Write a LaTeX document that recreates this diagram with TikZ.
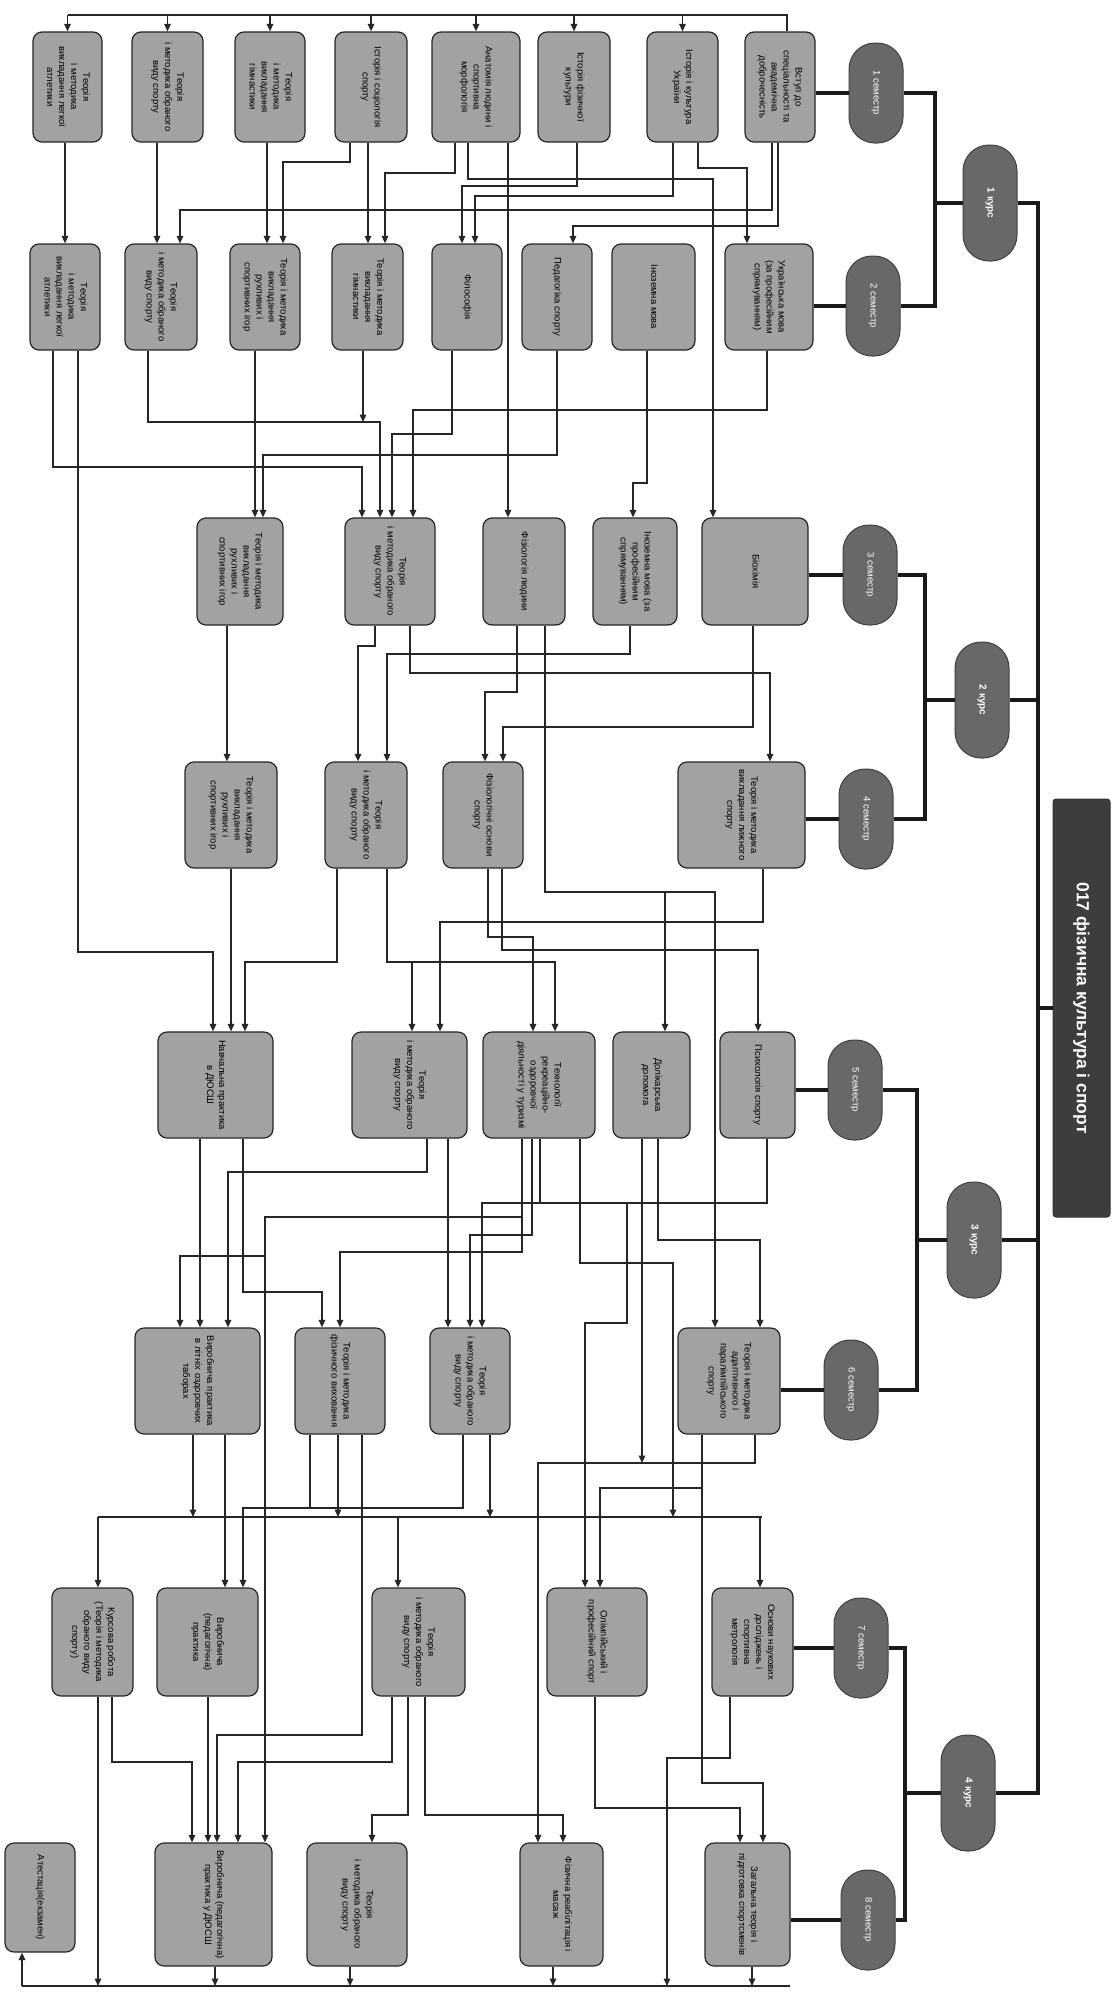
\documentclass[tikz,border=0pt]{standalone}
\usepackage{fontspec}
\setmainfont{Liberation Sans}
\usetikzlibrary{arrows.meta,calc}
\definecolor{boxgray}{HTML}{A2A2A2}
\definecolor{semgray}{HTML}{686868}
\definecolor{titlegray}{HTML}{3D3D3D}
\newcommand\mkbox[6]{\node[box,minimum width=#4pt,minimum height=#5pt] (#1) at (#2,#3) {\rotatebox{-90}{\begin{tabular}{@{}c@{}}#6\end{tabular}}};}
\begin{document}
\begin{tikzpicture}[x=1pt,y=-1pt,
  box/.style={draw=black!85,line width=1.2pt,fill=boxgray,rounded corners=9pt,inner sep=0pt,font=\fontsize{9.5}{12}\selectfont},
  sem/.style={draw=black!75,line width=1pt,fill=semgray,rounded corners=26pt,minimum width=54pt,minimum height=100pt,inner sep=0pt,text=white,font=\fontsize{9.5}{10}\selectfont},
  kurs/.style={sem,minimum height=116pt,font=\fontsize{10}{11}\selectfont\bfseries},
  thk/.style={line width=4.5pt,draw=black!90},
  wire/.style={line width=1.4pt,draw=black!85},
  arr/.style={wire,-{Triangle[length=7.5pt,width=6.5pt]}}]
\fill[white] (0,0) rectangle (1115,1994);
\useasboundingbox (0,0) rectangle (1115,1994);

% ---------- row 1
\mkbox{S1a}{67.5}{87}{69}{110}{Теорія\\і методика\\викладання легкої\\атлетики}
\mkbox{S1b}{167.5}{87}{71}{110}{Теорія\\і методика обраного\\виду спорту}
\mkbox{S1c}{270}{87}{70}{110}{Теорія\\і методика\\викладання\\гімнастики}
\mkbox{S1d}{371}{87}{72}{110}{Історія і соціологія\\спорту}
\mkbox{S1e}{476}{87}{88}{110}{Анатомія людини і\\спортивна\\морфологія}
\mkbox{S1f}{574}{87}{72}{110}{Історія фізичної\\культури}
\mkbox{S1g}{682.5}{87}{71}{110}{Історія і культура\\України}
\mkbox{S1h}{780}{87}{70}{110}{Вступ до\\спеціальності та\\академічна\\доброчесність}
% ---------- row 2
\mkbox{S2a}{65}{297}{70}{106}{Теорія\\і методика\\викладання легкої\\атлетики}
\mkbox{S2b}{161}{297}{72}{106}{Теорія\\і методика обраного\\виду спорту}
\mkbox{S2c}{265}{297}{70}{106}{Теорія і методика\\викладання\\рухливих і\\спортивних ігор}
\mkbox{S2d}{367.5}{297}{71}{106}{Теорія і методика\\викладання\\гімнастики}
\mkbox{S2e}{467}{297}{70}{106}{Філософія}
\mkbox{S2f}{557}{297}{70}{106}{Педагогіка спорту}
\mkbox{S2g}{653.5}{297}{83}{106}{Іноземна мова}
\mkbox{S2h}{769}{297}{88}{106}{Українська мова\\(за професійним\\спрямуванням)}
% ---------- row 3
\mkbox{S3a}{240}{571.5}{86}{107}{Теорія і методика\\викладання\\рухливих і\\спортивних ігор}
\mkbox{S3b}{390}{571.5}{90}{107}{Теорія\\і методика обраного\\виду спорту}
\mkbox{S3c}{524}{571.5}{82}{107}{Фізіологія людини}
\mkbox{S3d}{635}{571.5}{84}{107}{Іноземна мова (за\\професійним\\спрямуванням)}
\mkbox{S3e}{755}{571.5}{106}{107}{Біохімія}
% ---------- row 4
\mkbox{S4a}{231}{815}{92}{106}{Теорія і методика\\викладання\\рухливих і\\спортивних ігор}
\mkbox{S4b}{366}{815}{82}{106}{Теорія\\і методика обраного\\виду спорту}
\mkbox{S4c}{483}{815}{80}{106}{Фізіологічні основи\\спорту}
\mkbox{S4d}{741.5}{815}{127}{106}{Теорія і методика\\викладання лижного\\спорту}
% ---------- row 5
\mkbox{S5a}{215.5}{1085}{115}{106}{Навчальна практика\\в ДЮСШ}
\mkbox{S5b}{409.5}{1085}{115}{106}{Теорія\\і методика обраного\\виду спорту}
\mkbox{S5c}{539}{1085}{112}{106}{Технології\\рекреаційно-\\оздоровчої\\діяльності у туризмі}
\mkbox{S5d}{651.5}{1085}{77}{106}{Долікарська\\допомога}
\mkbox{S5e}{757.5}{1085}{75}{106}{Психологія спорту}
% ---------- row 6
\mkbox{S6a}{197.5}{1381}{125}{106}{Виробнича практика\\в літніх оздоровчих\\таборах}
\mkbox{S6b}{340}{1381}{90}{106}{Теорія і методика\\фізичного виховання}
\mkbox{S6c}{470}{1381}{80}{106}{Теорія\\і методика обраного\\виду спорту}
\mkbox{S6d}{729}{1381}{102}{106}{Теорія і методика\\адаптивного і\\паралімпійського\\спорту}
% ---------- row 7
\mkbox{S7a}{92.5}{1642}{81}{108}{Курсова робота\\(Теорія і методика\\обраного виду\\спорту)}
\mkbox{S7b}{207.5}{1642}{101}{108}{Виробнича\\(педагогічна)\\практика}
\mkbox{S7c}{418.5}{1642}{93}{108}{Теорія\\і методика обраного\\виду спорту}
\mkbox{S7d}{597}{1642}{100}{108}{Олімпійський і\\професійний спорт}
\mkbox{S7e}{752.5}{1642}{81}{108}{Основи наукових\\досліджень і\\спортивна\\метрологія}
% ---------- row 8
\mkbox{S8a}{40}{1897.5}{70}{109}{Атестація(екзамен)}
\mkbox{S8b}{213.5}{1904.5}{117}{123}{Виробнича (педагогічна)\\практика у ДЮСШ}
\mkbox{S8c}{357}{1904.5}{100}{123}{Теорія\\і методика обраного\\виду спорту}
\mkbox{S8d}{561.5}{1904.5}{83}{123}{Фізична реабілітація і\\масаж}
\mkbox{S8e}{747.5}{1904.5}{85}{123}{Загальна теорія і\\підготовка спортсменів}

% ---------- semesters, courses, title
\node[sem] (sem1) at (876,93) {\rotatebox{-90}{1 семестр}};
\node[sem] (sem2) at (873,306) {\rotatebox{-90}{2 семестр}};
\node[sem] (sem3) at (870,575) {\rotatebox{-90}{3 семестр}};
\node[sem] (sem4) at (866,819) {\rotatebox{-90}{4 семестр}};
\node[sem] (sem5) at (855,1090) {\rotatebox{-90}{5 семестр}};
\node[sem] (sem6) at (851,1390) {\rotatebox{-90}{6 семестр}};
\node[sem] (sem7) at (861,1648) {\rotatebox{-90}{7 семестр}};
\node[sem] (sem8) at (868,1920) {\rotatebox{-90}{8 семестр}};
\node[kurs] (kurs1) at (990,203) {\rotatebox{-90}{1 курс}};
\node[kurs] (kurs2) at (982,700) {\rotatebox{-90}{2 курс}};
\node[kurs] (kurs3) at (974,1240) {\rotatebox{-90}{3 курс}};
\node[kurs] (kurs4) at (968,1793) {\rotatebox{-90}{4 курс}};
\node[draw=black!80,line width=1pt,fill=titlegray,rounded corners=3pt,minimum width=57pt,minimum height=418pt,inner sep=0pt,text=white,font=\fontsize{17.5}{20}\selectfont\bfseries] (title) at (1081.5,1008) {\rotatebox{-90}{017 фізична культура і спорт}};

\coordinate (bA) at (935,0);
\coordinate (bB) at (925,0);
\coordinate (bC) at (917,0);
\coordinate (bD) at (905,0);
\coordinate (tr) at (1038,0);
\draw[thk] (S1h.east |- sem1) -- (sem1.west);
\draw[thk] (S2h.east |- sem2) -- (sem2.west);
\draw[thk] (S3e.east |- sem3) -- (sem3.west);
\draw[thk] (S4d.east |- sem4) -- (sem4.west);
\draw[thk] (S5e.east |- sem5) -- (sem5.west);
\draw[thk] (S6d.east |- sem6) -- (sem6.west);
\draw[thk] (S7e.east |- sem7) -- (sem7.west);
\draw[thk] (S8e.east |- sem8) -- (sem8.west);
\draw[thk] (sem1.east) -- (sem1.east -| bA) -- (sem2.east -| bA) -- (sem2.east);
\draw[thk] (kurs1.west) -- (kurs1.west -| bA);
\draw[thk] (sem3.east) -- (sem3.east -| bB) -- (sem4.east -| bB) -- (sem4.east);
\draw[thk] (kurs2.west) -- (kurs2.west -| bB);
\draw[thk] (sem5.east) -- (sem5.east -| bC) -- (sem6.east -| bC) -- (sem6.east);
\draw[thk] (kurs3.west) -- (kurs3.west -| bC);
\draw[thk] (sem7.east) -- (sem7.east -| bD) -- (sem8.east -| bD) -- (sem8.east);
\draw[thk] (kurs4.west) -- (kurs4.west -| bD);
\draw[thk] (kurs1.east) -- (kurs1.east -| tr) -- (kurs4.east -| tr) -- (kurs4.east);
\draw[thk] (kurs2.east) -- (kurs2.east -| tr);
\draw[thk] (kurs3.east) -- (kurs3.east -| tr);
\draw[thk] (title.west) -- (title.west -| tr);

% ---------- row 1 bus
\coordinate (bus1) at (0,15);
\draw[wire] (S1h.north -| 787,0) -- (787,15) -- (S1a.north |- bus1);
\foreach \n in {S1a,S1b,S1c,S1d,S1e,S1f,S1g} \draw[arr] (\n.north |- bus1) -- (\n.north);

% ---------- row 1 -> row 2
\draw[arr] (S1a.south -| 65,0) -- (S2a.north -| 65,0);
\draw[arr] (S1b.south -| 157,0) -- (S2b.north -| 157,0);
\draw[arr] (S1c.south -| 267,0) -- (S2c.north -| 267,0);
\draw[arr] (S1d.south -| 350,0) -- (350,162) -- (283,162) -- (S2c.north -| 283,0);
\draw[arr] (S1d.south -| 368,0) -- (S2d.north -| 368,0);
\draw[arr] (S1e.south -| 455,0) -- (455,173) -- (385,173) -- (S2d.north -| 385,0);
\draw[arr] (S1h.south -| 772,0) -- (772,210) -- (180,210) -- (S2b.north -| 180,0);
\draw[arr] (S1h.south -| 778,0) -- (778,226) -- (573,226) -- (S2f.north -| 573,0);
\draw[arr] (S1g.south -| 698,0) -- (698,168) -- (747,168) -- (S2h.north -| 747,0);
\draw[arr] (S1g.south -| 673,0) -- (673,196) -- (475,196) -- (S2e.north -| 475,0);
\draw[arr] (S1f.south -| 577,0) -- (577,186) -- (462,186) -- (S2e.north -| 462,0);
\draw[arr] (S1e.south -| 468,0) -- (468,179) -- (713,179) -- (S3e.north -| 713,0);
\draw[arr] (S1e.south -| 508,0) -- (S3c.north -| 508,0);

% ---------- row 2 -> row 3
\draw[arr] (S2a.south -| 53,0) -- (53,467) -- (362,467) -- (S3b.north -| 362,0);
\draw[arr] (S2a.south -| 78,0) -- (78,952) -- (213,952) -- (S5a.north -| 213,0);
\draw[arr] (S2b.south -| 148,0) -- (148,422) -- (380,422) -- (S3b.north -| 380,0);
\coordinate (j1) at (363,422);
\draw[arr] (S2d.south -| 363,0) -- (j1);
\draw[arr] (S2c.south -| 255,0) -- (S3a.north -| 255,0);
\draw[arr] (S2f.south -| 557,0) -- (557,455) -- (263,455) -- (S3a.north -| 263,0);
\draw[arr] (S2e.south -| 452,0) -- (452,434) -- (392,434) -- (S3b.north -| 392,0);
\draw[arr] (S2h.south -| 767,0) -- (767,410) -- (413,410) -- (S3b.north -| 413,0);
\draw[arr] (S2g.south -| 647,0) -- (647,483) -- (633,483) -- (S3d.north -| 633,0);

% ---------- row 3 -> row 4
\draw[arr] (S3a.south -| 227,0) -- (S4a.north -| 227,0);
\draw[arr] (S3b.south -| 375,0) -- (375,646) -- (358,646) -- (S4b.north -| 358,0);
\draw[arr] (S3d.south -| 630,0) -- (630,654) -- (387,654) -- (S4b.north -| 387,0);
\draw[arr] (S3b.south -| 410,0) -- (410,673) -- (770,673) -- (S4d.north -| 770,0);
\draw[arr] (S3e.south -| 753,0) -- (753,727) -- (503,727) -- (S4c.north -| 503,0);
\draw[arr] (S3c.south -| 517,0) -- (517,692) -- (485,692) -- (S4c.north -| 485,0);
\draw[arr] (S3c.south -| 545,0) -- (545,892) -- (715,892) -- (S6d.north -| 715,0);
\coordinate (j2) at (665,892);
\draw[arr] (j2) -- (S5d.north -| 665,0);

% ---------- row 4 -> row 5
\draw[arr] (S4a.south -| 231,0) -- (S5a.north -| 231,0);
\draw[arr] (S4b.south -| 337,0) -- (337,962) -- (245,962) -- (S5a.north -| 245,0);
\draw[arr] (S4b.south -| 387,0) -- (387,962) -- (555,962) -- (S5c.north -| 555,0);
\coordinate (j3) at (412,962);
\draw[arr] (j3) -- (S5b.north -| 412,0);
\draw[arr] (S4d.south -| 763,0) -- (763,922) -- (440,922) -- (S5b.north -| 440,0);
\draw[arr] (S4c.south -| 488,0) -- (488,937) -- (533,937) -- (S5c.north -| 533,0);
\draw[arr] (S4c.south -| 502,0) -- (502,950) -- (758,950) -- (S5e.north -| 758,0);

% ---------- row 5 -> row 6
\coordinate (bus7) at (0,1517);
\draw[arr] (S5a.south -| 200,0) -- (S6a.north -| 200,0);
\draw[arr] (S5b.south -| 427,0) -- (427,1172) -- (228,1172) -- (S6a.north -| 228,0);
\draw[arr] (S5c.south -| 522,0) -- (522,1252) -- (340,1252) -- (S6b.north -| 340,0);
\coordinate (j4) at (522,1217);
\draw[arr] (j4) -- (265,1217) -- (S8b.north -| 265,0);
\coordinate (j5) at (265,1256);
\draw[arr] (j5) -- (180,1256) -- (S6a.north -| 180,0);
\draw[arr] (S5c.south -| 532,0) -- (532,1235) -- (470,1235) -- (S6c.north -| 470,0);
\draw[wire] (S5c.south -| 540,0) -- (540,1203);
\draw[arr] (S5e.south -| 767,0) -- (767,1203) -- (482,1203) -- (S6c.north -| 482,0);
\coordinate (j6) at (627,1203);
\draw[arr] (j6) -- (627,1323) -- (585,1323) -- (S7d.north -| 585,0);
\draw[arr] (S5a.south -| 243,0) -- (243,1292) -- (322,1292) -- (S6b.north -| 322,0);
\draw[arr] (S5b.south -| 448,0) -- (S6c.north -| 448,0);
\draw[arr] (S5c.south -| 580,0) -- (580,1263) -- (673,1263) -- (bus7 -| 673,0);
\draw[arr] (S5d.south -| 642,0) -- (642,1463);
\draw[arr] (S5d.south -| 658,0) -- (658,1240) -- (760,1240) -- (S6d.north -| 760,0);

% ---------- row 6 -> row 7
\draw[wire] (bus7 -| 762,0) -- (bus7 -| 98,0);
\draw[arr] (bus7 -| 98,0) -- (S7a.north -| 98,0);
\draw[arr] (bus7 -| 398,0) -- (S7c.north -| 398,0);
\draw[arr] (bus7 -| 760,0) -- (S7e.north -| 760,0);
\draw[arr] (S6a.south -| 193,0) -- (bus7 -| 193,0);
\draw[arr] (S6a.south -| 225,0) -- (S7b.north -| 225,0);
\draw[arr] (S6c.south -| 463,0) -- (463,1508) -- (243,1508) -- (S7b.north -| 243,0);
\draw[wire] (S6b.south -| 310,0) -- (310,1508);
\draw[arr] (S6b.south -| 338,0) -- (bus7 -| 338,0);
\draw[arr] (S6b.south -| 362,0) -- (362,1735) -- (217,1735) -- (S8b.north -| 217,0);
\draw[arr] (S6c.south -| 490,0) -- (bus7 -| 490,0);
\draw[arr] (S6d.south -| 702,0) -- (702,1783) -- (763,1783) -- (S8e.north -| 763,0);
\coordinate (j7) at (702,1488);
\draw[arr] (j7) -- (600,1488) -- (S7d.north -| 600,0);
\draw[arr] (S6d.south -| 755,0) -- (755,1463) -- (538,1463) -- (S8d.north -| 538,0);

% ---------- row 7 -> row 8
\coordinate (bus8) at (0,1986);
\draw[wire] (bus8 -| 22,0) -- (bus8 -| 790,0);
\draw[arr] (bus8 -| 22,0) -- (S8a.south -| 22,0);
\draw[arr] (S7a.south -| 98,0) -- (bus8 -| 98,0);
\draw[arr] (S7a.south -| 112,0) -- (112,1762) -- (192,1762) -- (S8b.north -| 192,0);
\draw[arr] (S7b.south -| 208,0) -- (S8b.north -| 208,0);
\draw[arr] (S7c.south -| 392,0) -- (392,1762) -- (238,1762) -- (S8b.north -| 238,0);
\draw[arr] (S7c.south -| 408,0) -- (408,1815) -- (372,1815) -- (S8c.north -| 372,0);
\draw[arr] (S7c.south -| 425,0) -- (425,1815) -- (563,1815) -- (S8d.north -| 563,0);
\draw[arr] (S7d.south -| 595,0) -- (595,1808) -- (740,1808) -- (S8e.north -| 740,0);
\draw[arr] (S7e.south -| 730,0) -- (730,1758) -- (667,1758) -- (bus8 -| 667,0);
\draw[arr] (S8b.south -| 215,0) -- (bus8 -| 215,0);
\draw[arr] (S8c.south -| 350,0) -- (bus8 -| 350,0);
\draw[arr] (S8d.south -| 553,0) -- (bus8 -| 553,0);
\draw[arr] (S8e.south -| 752,0) -- (bus8 -| 752,0);
\end{tikzpicture}
\end{document}
